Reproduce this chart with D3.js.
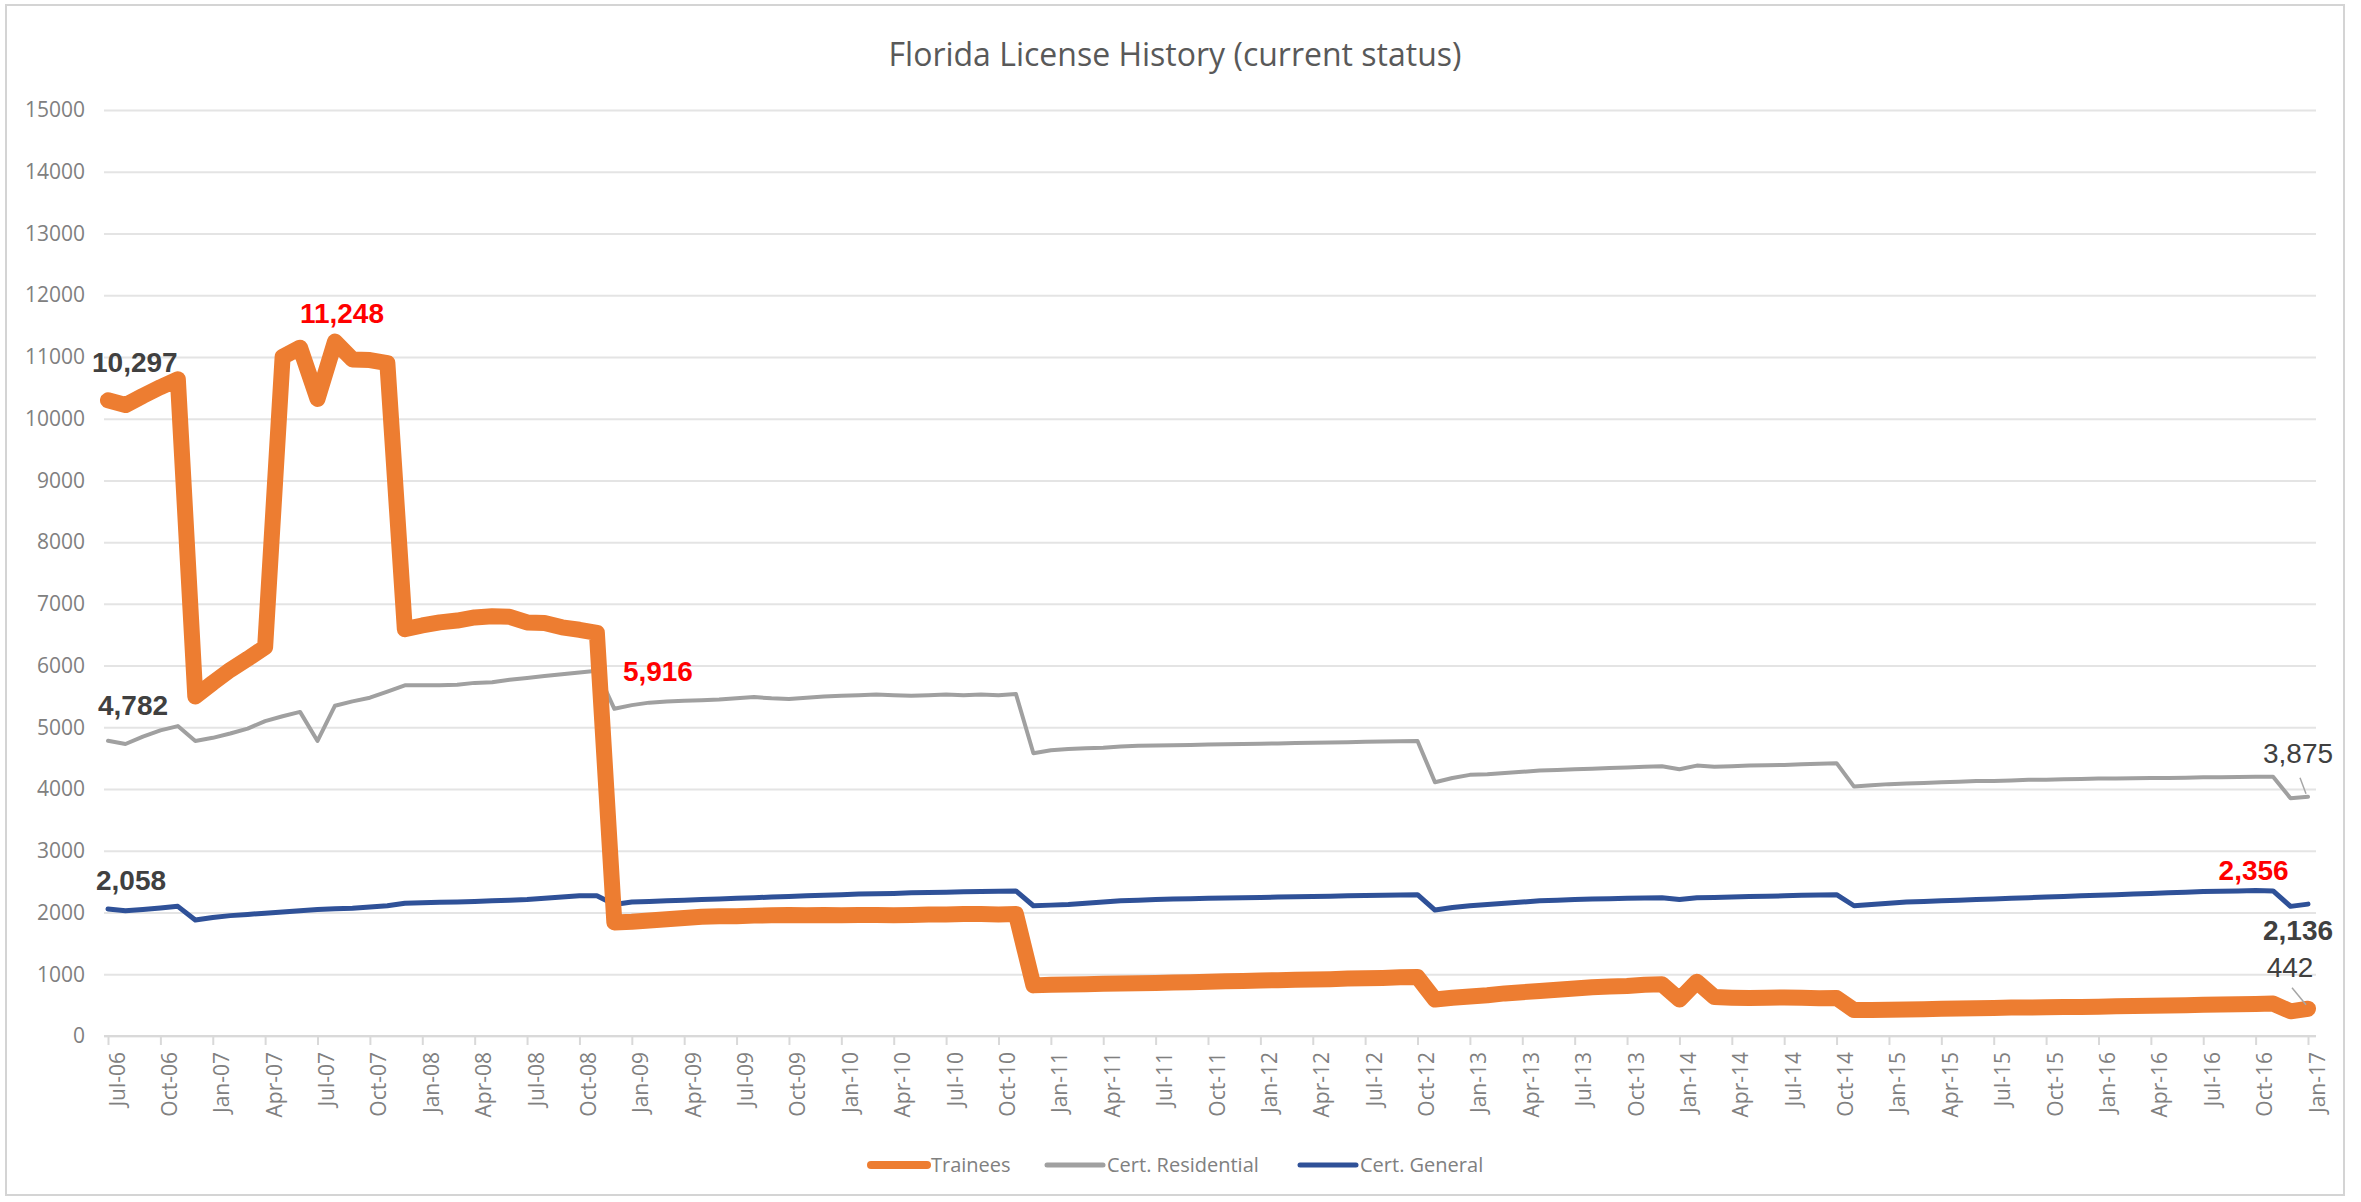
<!DOCTYPE html>
<html>
<head>
<meta charset="utf-8">
<script src="https://cdn.jsdelivr.net/npm/d3@7"></script>
<style>
  body { margin: 0; background: #fff; }
  svg { display: block; }
  .tick text { fill: #808080; }
</style>
</head>
<body>
<svg id="chart"></svg>
<script>
// quarterly tick labels, Jul-06 .. Jan-17 (one every 3 months)
const tickLabels = [
  "Jul-06","Oct-06","Jan-07","Apr-07","Jul-07","Oct-07","Jan-08","Apr-08","Jul-08","Oct-08",
  "Jan-09","Apr-09","Jul-09","Oct-09","Jan-10","Apr-10","Jul-10","Oct-10","Jan-11","Apr-11",
  "Jul-11","Oct-11","Jan-12","Apr-12","Jul-12","Oct-12","Jan-13","Apr-13","Jul-13","Oct-13",
  "Jan-14","Apr-14","Jul-14","Oct-14","Jan-15","Apr-15","Jul-15","Oct-15","Jan-16","Apr-16",
  "Jul-16","Oct-16","Jan-17"
];

const yTicks = [0,1000,2000,3000,4000,5000,6000,7000,8000,9000,10000,11000,12000,13000,14000,15000];

const seriesNames = ["Trainees", "Cert. Residential", "Cert. General"];

// monthly values, Jul-06 .. Jan-17 (127 months)
const trainees = [
  10297,10220,10370,10510,10640,5500,5720,5930,6110,6300,
  11000,11150,10320,11248,10960,10950,10900,6590,6650,6700,
  6730,6780,6800,6790,6700,6690,6620,6580,6530,1840,
  1850,1870,1890,1910,1930,1940,1940,1950,1955,1960,
  1955,1960,1955,1960,1960,1955,1960,1970,1970,1975,
  1975,1970,1975,820,830,835,840,845,850,855,
  860,865,870,880,885,890,900,905,910,915,
  920,930,935,940,950,955,590,620,640,660,
  690,710,730,750,770,790,800,810,830,840,
  590,880,630,620,615,620,625,620,610,615,
  420,420,425,430,435,440,445,450,455,460,
  460,465,470,470,475,480,485,490,495,500,
  505,510,515,520,525,400,442
];

const certResidential = [
  4782,4730,4850,4950,5020,4780,4830,4900,4980,5100,
  5180,5250,4780,5350,5420,5480,5580,5680,5680,5680,
  5690,5720,5730,5770,5800,5830,5860,5890,5916,5300,
  5360,5400,5420,5430,5440,5450,5470,5490,5470,5460,
  5480,5500,5510,5520,5530,5520,5510,5520,5530,5520,
  5530,5520,5540,4580,4630,4650,4660,4670,4690,4700,
  4705,4710,4715,4720,4725,4730,4735,4740,4745,4750,
  4755,4760,4765,4770,4775,4780,4110,4180,4230,4240,
  4260,4280,4300,4310,4320,4330,4340,4350,4360,4370,
  4320,4380,4360,4370,4380,4385,4390,4400,4410,4420,
  4040,4060,4080,4090,4100,4110,4120,4130,4130,4140,
  4150,4150,4160,4165,4170,4170,4175,4180,4180,4185,
  4190,4190,4195,4200,4200,3850,3875
];

const certGeneral = [
  2058,2030,2050,2075,2100,1880,1920,1950,1970,1990,
  2010,2030,2050,2060,2070,2090,2110,2150,2160,2165,
  2170,2180,2190,2200,2210,2230,2250,2270,2270,2130,
  2170,2180,2190,2200,2210,2220,2230,2240,2250,2260,
  2270,2280,2290,2300,2305,2310,2320,2325,2330,2335,
  2340,2345,2350,2110,2120,2130,2150,2170,2190,2200,
  2210,2220,2225,2230,2235,2240,2245,2250,2255,2260,
  2265,2270,2275,2280,2285,2290,2040,2080,2110,2130,
  2150,2170,2190,2200,2210,2220,2225,2230,2235,2240,
  2210,2240,2245,2250,2260,2265,2270,2280,2285,2290,
  2110,2130,2150,2170,2180,2190,2200,2210,2220,2230,
  2240,2250,2260,2270,2280,2290,2300,2310,2320,2330,
  2340,2345,2350,2356,2350,2100,2136
];

const W = 2361, H = 1202;
const svg = d3.select("#chart").attr("width", W).attr("height", H);

svg.append("rect")
  .attr("x", 6).attr("y", 5)
  .attr("width", 2338).attr("height", 1190)
  .attr("fill", "#fff")
  .attr("stroke", "#d4d4d4")
  .attr("stroke-width", 2);

const plotLeft = 104, plotRight = 2316;
const x = d3.scaleLinear().domain([0, trainees.length - 1]).range([108, 2308]);
const y = d3.scaleLinear().domain([0, 15000]).range([1036, 110]);

// title
svg.append("text")
  .attr("x", 1175).attr("y", 66)
  .attr("text-anchor", "middle")
  .attr("font-family", "Open Sans, sans-serif")
  .attr("font-size", 32)
  .attr("fill", "#595959")
  .text("Florida License History (current status)");

// y axis + gridlines
const yAxis = svg.append("g")
  .attr("transform", `translate(${plotLeft},0)`)
  .call(d3.axisLeft(y).tickValues(yTicks).tickFormat(d3.format("d"))
    .tickSize(-(plotRight - plotLeft)).tickPadding(19));
yAxis.select(".domain").remove();
yAxis.selectAll(".tick line").attr("stroke", "#e4e4e4").attr("stroke-width", 2);
yAxis.selectAll(".tick text")
  .attr("font-family", "Open Sans, sans-serif")
  .attr("font-size", 21);

// x axis
const xAxis = svg.append("g")
  .attr("transform", `translate(0,${y(0)})`)
  .call(d3.axisBottom(x)
    .tickValues(tickLabels.map((d, i) => i * 3))
    .tickFormat((d, i) => tickLabels[i])
    .tickSize(9));
xAxis.select(".domain")
  .attr("d", `M${plotLeft},0H${plotRight}`)
  .attr("stroke", "#d9d9d9").attr("stroke-width", 2);
xAxis.selectAll(".tick line").attr("stroke", "#d9d9d9").attr("stroke-width", 2);
xAxis.selectAll(".tick text")
  .attr("font-family", "Open Sans, sans-serif")
  .attr("font-size", 21)
  .attr("text-anchor", "end")
  .attr("dy", null)
  .attr("y", 0)
  .attr("transform", "translate(16,16) rotate(-90)");

// lines
const styles = [
  { values: trainees, color: "#ED7D31", width: 16 },
  { values: certResidential, color: "#A0A0A0", width: 4 },
  { values: certGeneral, color: "#2F5198", width: 5 }
];
const line = d3.line().x((d, i) => x(i)).y(d => y(d));

// draw order: residential, general, then trainees on top
[1, 2, 0].forEach(k => {
  svg.append("path")
    .datum(styles[k].values)
    .attr("fill", "none")
    .attr("stroke", styles[k].color)
    .attr("stroke-width", styles[k].width)
    .attr("stroke-linejoin", "round")
    .attr("stroke-linecap", "round")
    .attr("d", line);
});

// data labels
const fmt = d3.format(",");
const notes = [
  { s: trainees, i: 0, color: "#404040", bold: true, dx: -16, dy: -28, anchor: "start" },
  { s: trainees, i: 13, color: "#FF0000", bold: true, dx: 7, dy: -19, anchor: "middle" },
  { s: certResidential, i: 0, color: "#404040", bold: true, dx: -10, dy: -26, anchor: "start" },
  { s: certResidential, i: 28, color: "#FF0000", bold: true, dx: 26, dy: 10, anchor: "start" },
  { s: certGeneral, i: 0, color: "#404040", bold: true, dx: -12, dy: -19, anchor: "start" },
  { s: certResidential, i: 126, color: "#404040", bold: false, dx: -10, dy: -34, anchor: "middle", lead: [-8, -19, -2, -3] },
  { s: certGeneral, i: 123, color: "#FF0000", bold: true, dx: -2, dy: -11, anchor: "middle" },
  { s: certGeneral, i: 126, color: "#404040", bold: true, dx: -10, dy: 36, anchor: "middle" },
  { s: trainees, i: 126, color: "#404040", bold: false, dx: -18, dy: -32, anchor: "middle", lead: [-16, -21, -2, -4] }
];

notes.forEach(n => {
  const px = x(n.i), py = y(n.s[n.i]);
  if (n.lead) {
    svg.append("line")
      .attr("x1", px + n.lead[0]).attr("y1", py + n.lead[1])
      .attr("x2", px + n.lead[2]).attr("y2", py + n.lead[3])
      .attr("stroke", "#a6a6a6").attr("stroke-width", 1.5);
  }
  svg.append("text")
    .attr("x", px + n.dx).attr("y", py + n.dy)
    .attr("text-anchor", n.anchor)
    .attr("font-family", "Liberation Sans, Arial, sans-serif")
    .attr("font-weight", n.bold ? "bold" : "normal")
    .attr("font-size", 28)
    .attr("fill", n.color)
    .text(fmt(n.s[n.i]));
});

// legend
const legendX = [871, 1047, 1300];
const legend = svg.append("g").attr("transform", "translate(0,1165)");
seriesNames.forEach((name, k) => {
  legend.append("line")
    .attr("x1", legendX[k]).attr("x2", legendX[k] + 56)
    .attr("stroke", styles[k].color)
    .attr("stroke-width", k === 0 ? 8 : 5)
    .attr("stroke-linecap", "round");
  legend.append("text")
    .attr("x", legendX[k] + 60).attr("y", 0)
    .attr("dy", "0.35em")
    .attr("font-family", "Open Sans, sans-serif")
    .attr("font-size", 20)
    .attr("fill", "#808080")
    .text(name);
});
</script>
</body>
</html>
